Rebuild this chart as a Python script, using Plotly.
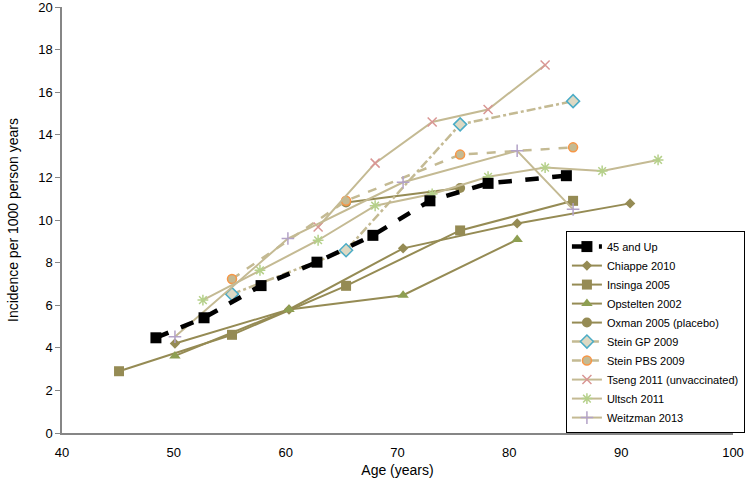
import plotly.graph_objects as go

# ---- data ----
age_45up = [48.4, 52.7, 57.8, 62.8, 67.8, 72.9, 78.1, 85.1]
inc_45up = [4.47, 5.41, 6.92, 8.02, 9.28, 10.9, 11.72, 12.08]

age_chiappe = [50.1, 60.3, 70.5, 80.7, 90.8]
inc_chiappe = [4.2, 5.8, 8.67, 9.84, 10.78]

age_insinga = [45.1, 55.2, 65.4, 75.6, 85.7]
inc_insinga = [2.9, 4.61, 6.91, 9.51, 10.9]

age_opstelten = [50.1, 60.3, 70.5, 80.7]
inc_opstelten = [3.62, 5.8, 6.47, 9.08]

age_oxman = [65.4, 75.6]
inc_oxman = [10.82, 11.5]

age_steingp = [55.2, 65.4, 75.6, 85.7]
inc_steingp = [6.52, 8.58, 14.49, 15.58]

age_steinpbs = [55.2, 65.4, 75.6, 85.7]
inc_steinpbs = [7.23, 10.9, 13.07, 13.41]

age_tseng = [62.9, 68.0, 73.1, 78.1, 83.2]
inc_tseng = [9.67, 12.67, 14.6, 15.19, 17.28]

age_ultsch = [52.6, 57.7, 62.9, 68.0, 73.1, 78.1, 83.2, 88.3, 93.3]
inc_ultsch = [6.24, 7.64, 9.05, 10.67, 11.22, 12.03, 12.46, 12.3, 12.82]

age_weitzman = [50.1, 60.2, 70.5, 80.7, 85.7]
inc_weitzman = [4.52, 9.13, 11.77, 13.25, 10.5]

OLIVE = "#958B54"
TAN = "#C4BA93"

fig = go.Figure()

def add(name, x, y, color, width, dash, symbol, size, mfill, mline, mlw, rank):
    fig.add_trace(go.Scatter(
        x=x, y=y, name=name, mode="lines+markers", legendrank=rank,
        line=dict(color=color, width=width, dash=dash),
        marker=dict(symbol=symbol, size=size, color=mfill,
                    line=dict(color=mline, width=mlw)),
    ))

add("Chiappe 2010", age_chiappe, inc_chiappe, OLIVE, 2, "solid", "diamond", 8, OLIVE, OLIVE, 0, 2)
add("Insinga 2005", age_insinga, inc_insinga, OLIVE, 2, "solid", "square", 10, OLIVE, OLIVE, 0, 3)
add("Opstelten 2002", age_opstelten, inc_opstelten, OLIVE, 2, "solid", "triangle-up", 10, "#8E9F52", OLIVE, 0, 4)
add("Oxman 2005 (placebo)", age_oxman, inc_oxman, OLIVE, 2, "solid", "circle", 10, OLIVE, OLIVE, 0, 5)
add("Stein GP 2009", age_steingp, inc_steingp, TAN, 2.5, "dashdot", "diamond", 10, "#DDD9C3", "#4BACC6", 1.5, 6)
add("Stein PBS 2009", age_steinpbs, inc_steinpbs, TAN, 2.5, "dash", "circle", 9, TAN, "#F79646", 1.5, 7)
add("Tseng 2011 (unvaccinated)", age_tseng, inc_tseng, TAN, 2, "solid", "x-thin", 9, "#D99694", "#D99694", 1.5, 8)
add("Ultsch 2011", age_ultsch, inc_ultsch, TAN, 2, "solid", "asterisk", 9, "#B5D08A", "#B5D08A", 1.5, 9)
add("Weitzman 2013", age_weitzman, inc_weitzman, TAN, 2, "solid", "cross-thin", 9, "#B3A2C7", "#B3A2C7", 1.5, 10)
add("45 and Up", age_45up, inc_45up, "black", 4.5, "dash", "square", 11, "black", "black", 0, 1)

font_family = "Liberation Sans, Arial, sans-serif"

fig.update_layout(
    width=746, height=484,
    margin=dict(l=62, r=13, t=7, b=51, autoexpand=False),
    plot_bgcolor="white", paper_bgcolor="white",
    font=dict(family=font_family, size=13, color="black"),
    showlegend=True,
    legend=dict(
        x=0.751, y=0.474, xanchor="left", yanchor="top",
        bgcolor="white", bordercolor="black", borderwidth=1,
        font=dict(size=11, family=font_family),
        tracegroupgap=0, itemwidth=30,
    ),
    xaxis=dict(
        range=[40, 100], tick0=40, dtick=10,
        showgrid=False, zeroline=False, automargin=False,
        showline=True, linecolor="#868686", linewidth=1.5,
        ticks="outside", ticklen=7, tickcolor="rgba(0,0,0,0)",
        ticklabeloverflow="allow",
        title=dict(text="Age (years)", standoff=6, font=dict(size=14)),
    ),
    yaxis=dict(
        range=[0, 20], tick0=0, dtick=2,
        showgrid=False, zeroline=False, automargin=False,
        showline=True, linecolor="#868686", linewidth=1.5,
        ticks="outside", ticklen=5, tickcolor="#868686",
        ticklabeloverflow="allow",
        title=dict(text="Incidence per 1000 person years", standoff=16, font=dict(size=14)),
    ),
)

fig.write_html("out.html", config={"displayModeBar": False},
               post_script="document.body.style.margin='0';")
